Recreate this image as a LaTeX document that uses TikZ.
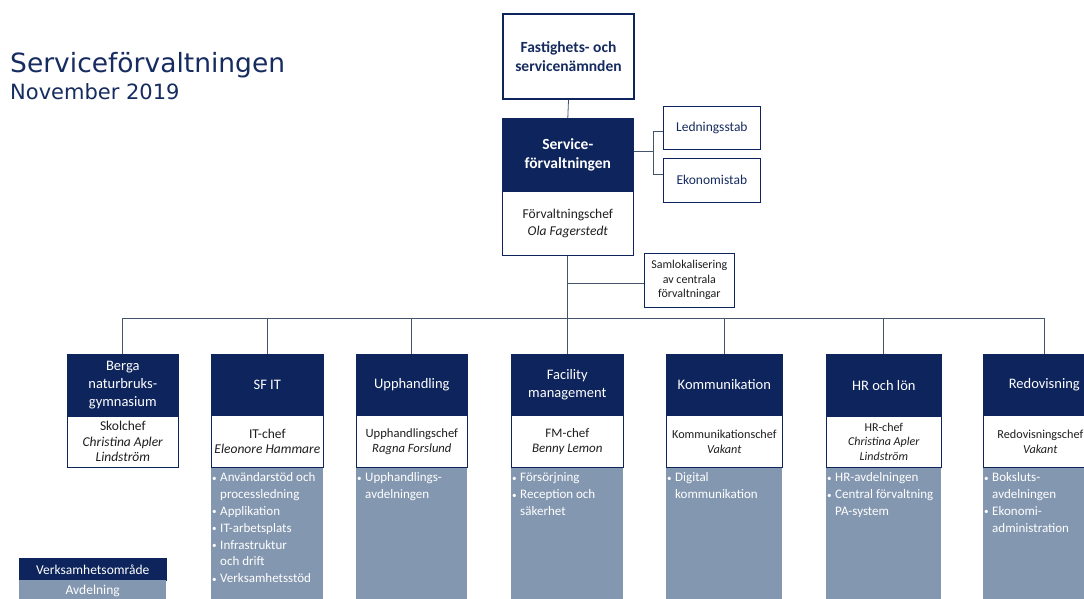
\documentclass[tikz,border=0pt]{standalone}
\usepackage{fontspec}
\setmainfont{Carlito}
\newfontfamily\titlefont{DejaVu Sans}
\usepackage{graphicx}
\definecolor{navy}{RGB}{13,36,92}
\definecolor{slate}{RGB}{132,151,176}
\definecolor{linec}{RGB}{68,84,106}
\definecolor{txt}{RGB}{30,30,30}
\definecolor{ttl}{RGB}{22,43,95}
\newcommand\mybul{\raisebox{0.12ex}{\scalebox{0.7}{•}}}
\newcommand\fs[2]{\fontsize{#1}{#2}\selectfont}
\newcommand\blist[1]{\begin{tabular}{@{}l@{\hspace{3.5pt}}l@{}}#1\end{tabular}}
\begin{document}
\begin{tikzpicture}[x=1pt,y=-1pt,
  topbox/.style={draw=navy, line width=2pt, fill=white, text=ttl, anchor=north west, align=center, inner sep=1pt, font=\bfseries\fs{15.5}{19.5}},
  hdr/.style={draw=navy, line width=0.6pt, fill=navy, text=white, anchor=north west, align=center, inner sep=1pt, font=\fs{14.5}{18}},
  info/.style={draw=navy, line width=0.7pt, fill=white, text=txt, anchor=north west, align=center, inner sep=1pt},
  staff/.style={draw=navy, line width=0.7pt, fill=white, text=ttl, anchor=north west, align=center, inner sep=1pt, font=\fs{13.5}{16}},
  grayb/.style={fill=slate, anchor=north west, inner sep=0pt},
  lst/.style={anchor=north west, text=white, inner sep=0pt, align=left, font=\fs{13}{16.8}},
  conn/.style={draw=linec, line width=0.8pt}]
\useasboundingbox (0,0) rectangle (1084,598);
\fill[white] (0,0) rectangle (1084,598);

% title
\node[anchor=base west, inner sep=0pt, text=ttl, font=\titlefont\fs{26.5}{30}] (title) at (10,72.5) {Serviceförvaltningen};
\node[anchor=base west, inner sep=0pt, text=ttl, font=\titlefont\fs{21}{24}] (date) at (10,99) {November 2019};

% top
\node[topbox, minimum width=131pt, minimum height=85pt] (fsn) at (502,13) {Fastighets- och\\servicenämnden};
\node[hdr, font=\bfseries\fs{15.5}{18.5}, minimum width=131pt, minimum height=73pt] (sfv) at (502,118) {Service-\\förvaltningen};
\node[info, font=\fs{13.5}{16.5}, minimum width=131pt, minimum height=64pt] (fchef) at (502,191) {Förvaltningschef\\\textit{Ola Fagerstedt}};

\node[staff, minimum width=97pt, minimum height=43pt] (led) at (663,106) {Ledningsstab};
\node[staff, minimum width=97pt, minimum height=44pt] (eko) at (663,158) {Ekonomistab};
\node[info, font=\fs{12}{14.5}, minimum width=90pt, minimum height=54pt] (saml) at (644,253) {Samlokalisering\\av centrala\\förvaltningar};

% columns: gray boxes first
\node[grayb, minimum width=112pt, minimum height=135pt] (sfitg) at (211,467) {};
\node[grayb, minimum width=111pt, minimum height=135pt] (upphg) at (356,467) {};
\node[grayb, minimum width=112pt, minimum height=135pt] (fmg) at (511,467) {};
\node[grayb, minimum width=116pt, minimum height=135pt] (kommg) at (666,467) {};
\node[grayb, minimum width=115pt, minimum height=135pt] (hrg) at (826,467) {};
\node[grayb, minimum width=122pt, minimum height=135pt] (redovg) at (983,467) {};

% Berga
\node[hdr, minimum width=111pt, minimum height=62pt] (berga) at (67,354) {Berga\\naturbruks-\\gymnasium};
\node[info, font=\fs{13.5}{15.5}, minimum width=111pt, minimum height=51pt] (bergai) at (67,416) {Skolchef\\\textit{Christina Apler}\\\textit{Lindström}};
% SF IT
\node[hdr, minimum width=112pt, minimum height=61pt] (sfit) at (211,354) {SF IT};
\node[info, font=\fs{13.5}{15.5}, minimum width=112pt, minimum height=52pt] (sfiti) at (211,415) {IT-chef\\\textit{Eleonore Hammare}};
\node[lst] (sfitl) at (212,470) {\blist{\mybul & Användarstöd och\\ & processledning\\ \mybul & Applikation\\ \mybul & IT-arbetsplats\\ \mybul & Infrastruktur\\ & och drift\\ \mybul & Verksamhetsstöd}};
% Upphandling
\node[hdr, minimum width=111pt, minimum height=61pt] (upph) at (356,354) {Upphandling};
\node[info, font=\fs{12.6}{15}, minimum width=111pt, minimum height=52pt] (upphi) at (356,415) {Upphandlingschef\\\textit{Ragna Forslund}};
\node[lst] (upphl) at (357,470) {\blist{\mybul & Upphandlings-\\ & avdelningen}};
% Facility management
\node[hdr, minimum width=112pt, minimum height=61pt] (fm) at (511,354) {Facility\\management};
\node[info, font=\fs{13}{15}, minimum width=112pt, minimum height=52pt] (fmi) at (511,415) {FM-chef\\\textit{Benny Lemon}};
\node[lst] (fml) at (512,470) {\blist{\mybul & Försörjning\\ \mybul & Reception och\\ & säkerhet}};
% Kommunikation
\node[hdr, minimum width=116pt, minimum height=61pt] (komm) at (666,354) {Kommunikation};
\node[info, font=\fs{12.2}{15}, minimum width=116pt, minimum height=52pt] (kommi) at (666,415) {Kommunikationschef\\\textit{Vakant}};
\node[lst] (komml) at (667,470) {\blist{\mybul & Digital\\ & kommunikation}};
% HR
\node[hdr, minimum width=115pt, minimum height=62pt] (hr) at (826,354) {HR och lön};
\node[info, font=\fs{12}{14.5}, minimum width=115pt, minimum height=51pt] (hri) at (826,416) {HR-chef\\\textit{Christina Apler}\\\textit{Lindström}};
\node[lst] (hrl) at (827,470) {\blist{\mybul & HR-avdelningen\\ \mybul & Central förvaltning\\ & PA-system}};
% Redovisning
\node[hdr, minimum width=122pt, minimum height=61pt] (redov) at (983,354) {Redovisning};
\node[info, font=\fs{12.2}{15}, minimum width=122pt, minimum height=52pt] (redovi) at (983,415) {\hspace*{-8pt}Redovisningschef\\\hspace*{-8pt}\textit{Vakant}};
\node[lst] (redovl) at (984,470) {\blist{\mybul & Boksluts-\\ & avdelningen\\ \mybul & Ekonomi-\\ & administration}};

% legend
\node[hdr, font=\fs{13.5}{16}, minimum width=147pt, minimum height=22pt] (lg1) at (19,558) {Verksamhetsområde};
\node[grayb, text=white, font=\fs{13.5}{16}, minimum width=147pt, minimum height=22pt] (lg2) at (19,580) {Avdelning};

% connectors
\coordinate (busc) at (569,318);
\draw[conn] (fsn.south) -- (sfv.north);
\coordinate (sj) at ([xshift=20pt,yshift=3.5pt]sfv.east);
\draw[conn] ([yshift=3.5pt]sfv.east) -- (sj);
\draw[conn] ([yshift=-4pt]led.west) -| (sj) |- ([yshift=6pt]eko.west);
\draw[conn] (fchef.south) -- (fchef.south |- busc);
\draw[conn] ([yshift=-3pt]saml.west) -- ([yshift=-3pt]saml.west -| fchef.south);
\draw[conn] (berga.north |- busc) -- (redov.north |- busc);
\foreach \n in {berga,sfit,upph,fm,komm,hr,redov}
  \draw[conn] (\n.north |- busc) -- (\n.north);
\end{tikzpicture}
\end{document}
